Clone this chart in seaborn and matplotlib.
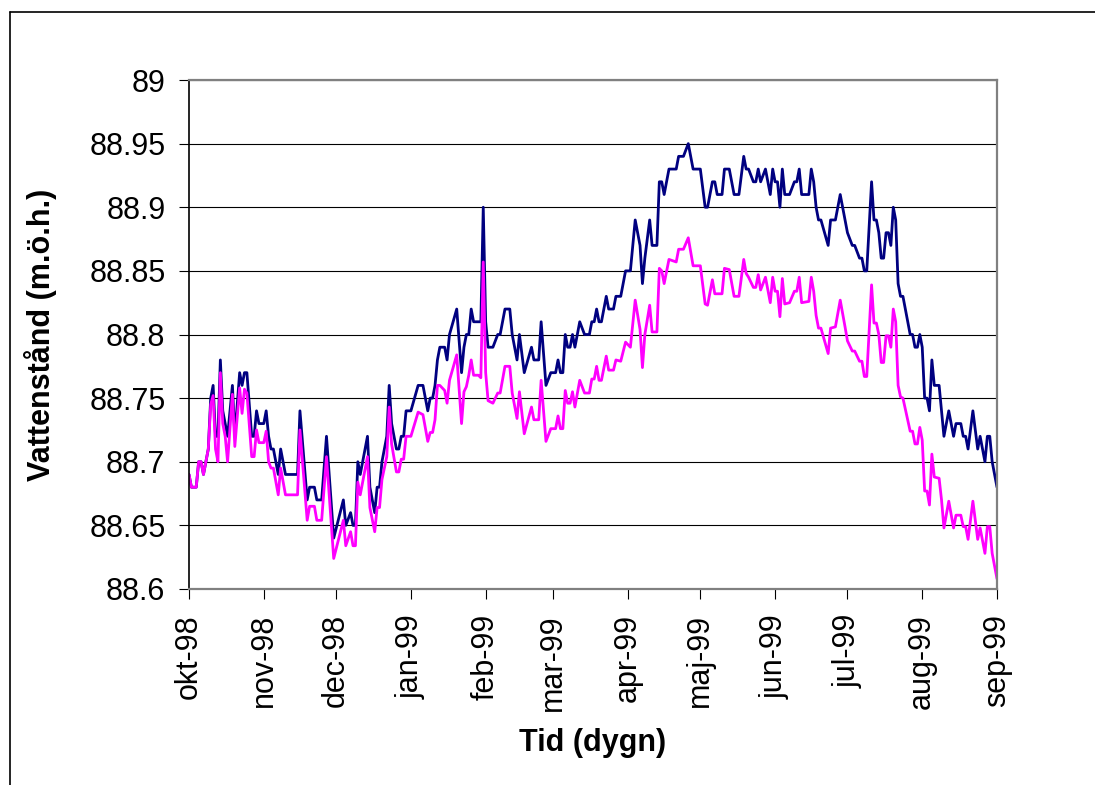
import numpy as np
import pandas as pd
import matplotlib
matplotlib.use("Agg")
import matplotlib.pyplot as plt
import matplotlib.dates as mdates
from matplotlib.lines import Line2D
from matplotlib.ticker import FuncFormatter
import seaborn as sns

# ---------------- data ----------------
start_date = "1998-10-01"
day_offsets = [
    0, 1, 3, 4, 5, 6, 7, 8, 9, 10, 11, 12, 13, 14, 15, 16, 18, 19, 21, 22,
    23, 24, 26, 27, 28, 29, 31, 32, 33, 34, 35, 37, 38, 40, 45, 46, 49, 50, 52, 53,
    55, 57, 60, 64, 65, 67, 68, 69, 70, 71, 74, 75, 77, 78, 79, 80, 82, 83, 84, 86,
    87, 88, 89, 90, 92, 95, 97, 99, 100, 101, 102, 103, 104, 106, 107, 108, 111, 113, 114, 115,
    116, 117, 118, 120, 121, 122, 123, 124, 126, 128, 129, 131, 133, 134, 136, 137, 139, 142, 143, 145,
    146, 148, 150, 152, 153, 154, 155, 156, 157, 158, 159, 160, 162, 164, 166, 167, 168, 169, 170, 171,
    173, 174, 176, 177, 179, 181, 183, 185, 187, 188, 189, 191, 192, 194, 195, 196, 197, 199, 202, 203,
    205, 207, 208, 209, 212, 214, 215, 217, 218, 219, 221, 222, 224, 226, 228, 230, 231, 232, 234, 235,
    236, 237, 239, 241, 242, 243, 244, 245, 246, 247, 249, 251, 252, 253, 254, 257, 258, 259, 260, 261,
    262, 265, 266, 268, 270, 272, 273, 275, 276, 278, 279, 280, 281, 283, 284, 285, 286, 287, 288, 289,
    290, 291, 292, 293, 294, 295, 296, 299, 300, 301, 302, 303, 304, 305, 306, 307, 308, 309, 311, 312,
    313, 315, 317, 318, 320, 321, 322, 323, 325, 327, 328, 330, 331, 332, 333, 335,
]
level_navy = [
    88.69, 88.68, 88.68, 88.70, 88.70, 88.69, 88.70, 88.71, 88.75, 88.76, 88.72, 88.72, 88.78, 88.74, 88.73, 88.72, 88.76, 88.72, 88.77, 88.76,
    88.77, 88.77, 88.72, 88.72, 88.74, 88.73, 88.73, 88.74, 88.72, 88.71, 88.71, 88.69, 88.71, 88.69, 88.69, 88.74, 88.67, 88.68, 88.68, 88.67,
    88.67, 88.72, 88.64, 88.67, 88.65, 88.66, 88.65, 88.65, 88.70, 88.69, 88.72, 88.68, 88.66, 88.68, 88.68, 88.70, 88.72, 88.76, 88.73, 88.71,
    88.71, 88.72, 88.72, 88.74, 88.74, 88.76, 88.76, 88.74, 88.75, 88.75, 88.76, 88.78, 88.79, 88.79, 88.78, 88.80, 88.82, 88.77, 88.79, 88.80,
    88.80, 88.82, 88.81, 88.81, 88.81, 88.90, 88.81, 88.79, 88.79, 88.80, 88.80, 88.82, 88.82, 88.80, 88.78, 88.80, 88.77, 88.79, 88.78, 88.78,
    88.81, 88.76, 88.77, 88.77, 88.78, 88.77, 88.77, 88.80, 88.79, 88.79, 88.80, 88.79, 88.81, 88.80, 88.80, 88.81, 88.81, 88.82, 88.81, 88.81,
    88.83, 88.82, 88.82, 88.83, 88.83, 88.85, 88.85, 88.89, 88.87, 88.84, 88.86, 88.89, 88.87, 88.87, 88.92, 88.92, 88.91, 88.93, 88.93, 88.94,
    88.94, 88.95, 88.94, 88.93, 88.93, 88.90, 88.90, 88.92, 88.92, 88.91, 88.91, 88.93, 88.93, 88.91, 88.91, 88.94, 88.93, 88.93, 88.92, 88.92,
    88.93, 88.92, 88.93, 88.91, 88.93, 88.92, 88.92, 88.90, 88.93, 88.91, 88.91, 88.92, 88.92, 88.93, 88.91, 88.91, 88.93, 88.92, 88.90, 88.89,
    88.89, 88.87, 88.89, 88.89, 88.91, 88.89, 88.88, 88.87, 88.87, 88.86, 88.86, 88.85, 88.85, 88.92, 88.89, 88.89, 88.88, 88.86, 88.86, 88.88,
    88.88, 88.87, 88.90, 88.89, 88.84, 88.83, 88.83, 88.80, 88.80, 88.79, 88.79, 88.80, 88.79, 88.75, 88.75, 88.74, 88.78, 88.76, 88.76, 88.74,
    88.72, 88.74, 88.72, 88.73, 88.73, 88.72, 88.72, 88.71, 88.74, 88.71, 88.72, 88.70, 88.72, 88.72, 88.70, 88.68,
]
level_magenta = [
    88.690, 88.680, 88.680, 88.700, 88.700, 88.690, 88.700, 88.710, 88.745, 88.752, 88.710, 88.700, 88.770, 88.730, 88.720, 88.700, 88.753, 88.712, 88.758, 88.738,
    88.757, 88.754, 88.704, 88.704, 88.725, 88.715, 88.715, 88.724, 88.700, 88.695, 88.695, 88.674, 88.695, 88.674, 88.674, 88.725, 88.654, 88.665, 88.665, 88.654,
    88.654, 88.704, 88.624, 88.654, 88.634, 88.645, 88.634, 88.634, 88.684, 88.674, 88.704, 88.664, 88.645, 88.664, 88.664, 88.686, 88.704, 88.743, 88.714, 88.692,
    88.692, 88.702, 88.702, 88.720, 88.720, 88.739, 88.737, 88.716, 88.723, 88.723, 88.733, 88.760, 88.760, 88.756, 88.746, 88.764, 88.784, 88.730, 88.755, 88.759,
    88.768, 88.780, 88.768, 88.768, 88.766, 88.857, 88.770, 88.748, 88.746, 88.754, 88.754, 88.775, 88.775, 88.754, 88.734, 88.755, 88.722, 88.743, 88.733, 88.733,
    88.764, 88.716, 88.726, 88.726, 88.736, 88.726, 88.726, 88.756, 88.746, 88.746, 88.755, 88.743, 88.764, 88.754, 88.754, 88.765, 88.765, 88.775, 88.764, 88.764,
    88.783, 88.772, 88.772, 88.780, 88.779, 88.794, 88.790, 88.827, 88.804, 88.774, 88.800, 88.823, 88.802, 88.802, 88.852, 88.850, 88.840, 88.859, 88.857, 88.867,
    88.867, 88.876, 88.865, 88.854, 88.854, 88.824, 88.823, 88.843, 88.832, 88.832, 88.832, 88.852, 88.851, 88.830, 88.830, 88.859, 88.848, 88.845, 88.837, 88.837,
    88.847, 88.835, 88.845, 88.825, 88.845, 88.834, 88.834, 88.814, 88.844, 88.824, 88.825, 88.834, 88.834, 88.845, 88.825, 88.826, 88.845, 88.834, 88.815, 88.805,
    88.805, 88.785, 88.805, 88.806, 88.827, 88.806, 88.795, 88.787, 88.787, 88.779, 88.779, 88.767, 88.767, 88.839, 88.809, 88.809, 88.800, 88.778, 88.778, 88.799,
    88.799, 88.790, 88.820, 88.810, 88.760, 88.751, 88.750, 88.724, 88.724, 88.714, 88.714, 88.727, 88.717, 88.677, 88.677, 88.666, 88.706, 88.688, 88.687, 88.670,
    88.648, 88.669, 88.648, 88.658, 88.658, 88.649, 88.649, 88.639, 88.669, 88.639, 88.648, 88.628, 88.649, 88.649, 88.628, 88.608,
]
series_names = ["navy", "magenta"]
series_colors = ["#000080", "#FF00FF"]
month_starts = ["1998-10-01", "1998-11-01", "1998-12-01", "1999-01-01", "1999-02-01", "1999-03-01",
                "1999-04-01", "1999-05-01", "1999-06-01", "1999-07-01", "1999-08-01", "1999-09-01"]
month_labels = ["okt-98", "nov-98", "dec-98", "jan-99", "feb-99", "mar-99",
                "apr-99", "maj-99", "jun-99", "jul-99", "aug-99", "sep-99"]
y_ticks = [88.6, 88.65, 88.7, 88.75, 88.8, 88.85, 88.9, 88.95, 89.0]
x_label = "Tid (dygn)"
y_label = "Vattenstånd (m.ö.h.)"

# ---------------- build table ----------------
dates = pd.to_datetime(start_date) + pd.to_timedelta(day_offsets, unit="D")
df = pd.concat([
    pd.DataFrame({"date": dates, "level": level_navy, "series": series_names[0]}),
    pd.DataFrame({"date": dates, "level": level_magenta, "series": series_names[1]}),
], ignore_index=True)

# ---------------- style ----------------
sns.set_style("white")
plt.rcParams["font.family"] = ["Liberation Sans", "DejaVu Sans"]
plt.rcParams["text.color"] = "black"
plt.rcParams["axes.labelcolor"] = "black"

W, H, DPI = 1095, 785, 100
fig = plt.figure(figsize=(W / DPI, H / DPI), dpi=DPI, facecolor="white")
ax = fig.add_axes([189 / W, 1 - 589 / H, (997 - 189) / W, (589 - 80) / H])

sns.lineplot(data=df, x="date", y="level", hue="series", hue_order=series_names,
             palette=dict(zip(series_names, series_colors)), estimator=None,
             linewidth=2.0, legend=False, ax=ax, sort=True)

ax.set_xlim(pd.to_datetime(month_starts[0]), pd.to_datetime(month_starts[-1]))
ax.set_ylim(y_ticks[0], y_ticks[-1])
ax.set_yticks(y_ticks)
ax.yaxis.set_major_formatter(FuncFormatter(lambda v, p: f"{v:g}"))
ax.set_xticks(pd.to_datetime(month_starts))
ax.set_xticklabels(month_labels, rotation=90)

ax.grid(axis="y", color="black", linewidth=0.8)
ax.grid(axis="x", visible=False)
ax.set_axisbelow(True)

ax.tick_params(axis="both", direction="out", length=7, width=0.8, color="black",
               labelsize=22, labelcolor="black")
ax.tick_params(axis="y", pad=10, left=True)
ax.tick_params(axis="x", pad=11, bottom=True)

for side in ["top", "right", "bottom"]:
    ax.spines[side].set_color("#808080")
    ax.spines[side].set_linewidth(1.6)
ax.spines["left"].set_color("black")
ax.spines["left"].set_linewidth(1.2)

ax.set_xlabel(x_label, fontsize=22, fontweight="bold", color="black")
ax.set_ylabel(y_label, fontsize=22, fontweight="bold", color="black")
ax.xaxis.set_label_coords(0.5, (589 - 743) / (589 - 80))
ax.xaxis.label.set_va("center")
ax.yaxis.set_label_coords((41 - 189) / (997 - 189), 0.5)
ax.yaxis.label.set_va("center")

# chart-area frame (top and left edges visible in the reference)
fig.add_artist(Line2D([10 / W, 1.0], [1 - 12 / H, 1 - 12 / H], color="black",
                      linewidth=1.2, transform=fig.transFigure))
fig.add_artist(Line2D([10 / W, 10 / W], [0.0, 1 - 12 / H], color="black",
                      linewidth=1.2, transform=fig.transFigure))

fig.savefig("out.png", dpi=DPI, facecolor="white")
